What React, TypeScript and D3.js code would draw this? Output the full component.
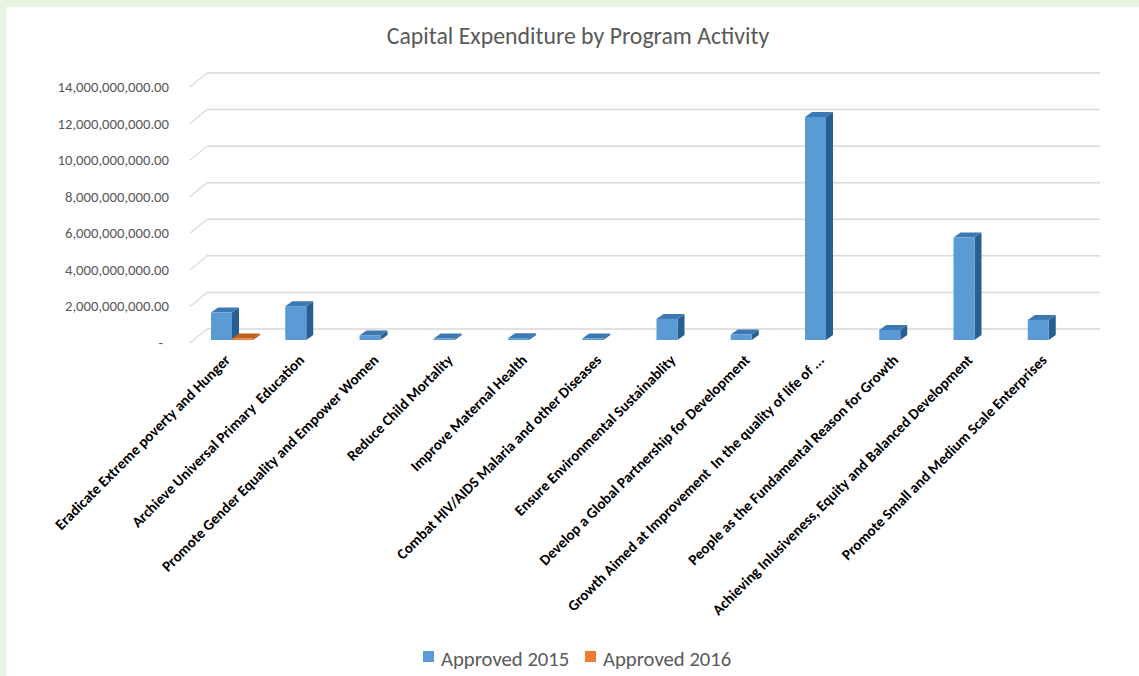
import React, { useRef, useEffect } from "react";
import * as d3 from "d3";

const categories = [
  "Eradicate Extreme poverty and Hunger",
  "Archieve Universal Primary  Education",
  "Promote Gender Equality and Empower Women",
  "Reduce Child Mortality",
  "Improve Maternal Health",
  "Combat HIV/AIDS Malaria and other Diseases",
  "Ensure Environmental Sustainablity",
  "Develop a Global Partnership for Development",
  "Growth Aimed at Improvement  In the quality of life of ...",
  "People as the Fundamental Reason for Growth",
  "Achieving Inlusiveness, Equity and Balanced Development",
  "Promote Small and Medium Scale Enterprises",
];

const approved2015 = [
  1.5e9, 1.85e9, 0.25e9, 0.02e9, 0.1e9, 0.02e9, 1.15e9, 0.3e9, 12.2e9, 0.55e9,
  5.6e9, 1.1e9,
];
const approved2016: (number | null)[] = [
  0.02e9, null, null, null, null, null, null, null, null, null, null, null,
];

const seriesNames = ["Approved 2015", "Approved 2016"];
const yTicks = [0, 2e9, 4e9, 6e9, 8e9, 10e9, 12e9, 14e9];

const W = 1139;
const H = 676;

const App = () => {
  const ref = useRef<SVGSVGElement>(null);

  useEffect(() => {
    const svg = d3.select(ref.current);
    svg.selectAll("*").remove();

    // background: thin green frame on left/top only
    svg.append("rect").attr("width", W).attr("height", H).attr("fill", "#e9f4e3");
    svg.append("rect").attr("x", 6).attr("y", 7).attr("width", W - 6).attr("height", H - 7).attr("fill", "#ffffff");

    const font = "Carlito, Calibri, Lato, 'Open Sans', sans-serif";

    svg
      .append("text")
      .attr("x", 578)
      .attr("y", 44)
      .attr("text-anchor", "middle")
      .attr("font-family", font)
      .attr("font-size", 23.8)
      .attr("fill", "#595959")
      .text("Capital Expenditure by Program Activity");

    // y scale at the bar front plane
    const y = d3.scaleLinear().domain([0, 14e9]).range([340, 84]);
    const wallDx = 17;
    const wallDy = -11;
    const floorFront = 3; // label/floor offset below bar base

    // back wall gridlines + left diagonals
    const grid = svg.append("g");
    yTicks.forEach((t) => {
      const yb = y(t) + wallDy;
      grid
        .append("line")
        .attr("x1", 190 + wallDx)
        .attr("x2", 1100)
        .attr("y1", yb)
        .attr("y2", yb)
        .attr("stroke", "#d9d9d9")
        .attr("stroke-width", 1.5);
      grid
        .append("line")
        .attr("x1", 190)
        .attr("y1", y(t) + floorFront)
        .attr("x2", 190 + wallDx)
        .attr("y2", yb)
        .attr("stroke", "#d9d9d9")
        .attr("stroke-width", 1.2);
    });

    // tick labels
    const fmt = d3.format(",.2f");
    svg
      .append("g")
      .selectAll("text")
      .data(yTicks)
      .enter()
      .append("text")
      .attr("x", (d) => (d === 0 ? 163 : 169))
      .attr("y", (d) => y(d) + floorFront + 5)
      .attr("text-anchor", "end")
      .attr("font-family", font)
      .attr("font-size", 14.7)
      .attr("fill", "#595959")
      .text((d) => (d === 0 ? "-" : fmt(d)));

    // x scales
    const step = 74.25;
    const x0 = d3
      .scaleBand()
      .domain(categories)
      .range([232 - step / 2, 232 - step / 2 + step * categories.length]);
    const x1 = d3
      .scaleBand()
      .domain(seriesNames)
      .range([x0.bandwidth() / 2 - 21, x0.bandwidth() / 2 + 21]);

    const bdx = 7;
    const bdy = -5;
    const colors = [
      { front: "#5b9bd5", top: "#3c79b3", side: "#285f91" },
      { front: "#ed7d31", top: "#c0601c", side: "#a8521a" },
    ];

    const bars = svg.append("g");
    const drawBar = (xl: number, w: number, v: number, c: any) => {
      const yb = y(0);
      let yt = y(v);
      if (yb - yt < 1.5) yt = yb - 1.5;
      const g = bars.append("g");
      g.append("polygon")
        .attr(
          "points",
          [
            [xl + w, yt],
            [xl + w + bdx, yt + bdy],
            [xl + w + bdx, yb + bdy],
            [xl + w, yb],
          ].join(" ")
        )
        .attr("fill", c.side);
      g.append("polygon")
        .attr(
          "points",
          [
            [xl, yt],
            [xl + w, yt],
            [xl + w + bdx, yt + bdy],
            [xl + bdx, yt + bdy],
          ].join(" ")
        )
        .attr("fill", c.top);
      g.append("rect")
        .attr("x", xl)
        .attr("y", yt)
        .attr("width", w)
        .attr("height", yb - yt)
        .attr("fill", c.front);
    };

    categories.forEach((cat, i) => {
      const vals = [approved2015[i], approved2016[i]];
      vals.forEach((v, s) => {
        if (v === null || v === undefined) return;
        const xl = (x0(cat) as number) + (x1(seriesNames[s]) as number);
        drawBar(xl, x1.bandwidth(), v, colors[s]);
      });
    });

    // category labels
    svg
      .append("g")
      .selectAll("text")
      .data(categories)
      .enter()
      .append("text")
      .attr("transform", (d) => {
        const cx = (x0(d) as number) + x0.bandwidth() / 2;
        return `translate(${cx - 1},${361}) rotate(-45)`;
      })
      .attr("text-anchor", "end")
      .attr("font-family", font)
      .attr("font-weight", 700)
      .attr("font-size", 15)
      .attr("fill", "#000")
      .style("white-space", "pre")
      .text((d) => d);

    // legend
    const legend = svg.append("g");
    const legendX = [423, 585];
    seriesNames.forEach((name, s) => {
      legend
        .append("rect")
        .attr("x", legendX[s])
        .attr("y", 651)
        .attr("width", 11)
        .attr("height", 11)
        .attr("fill", colors[s].front);
      legend
        .append("text")
        .attr("x", legendX[s] + 18)
        .attr("y", 666)
        .attr("font-family", font)
        .attr("font-size", 20.7)
        .attr("fill", "#595959")
        .text(name);
    });
  }, []);

  return (
    <svg
      ref={ref}
      width={W}
      height={H}
      style={{ position: "absolute", left: 0, top: 0 }}
    />
  );
};

export default App;
